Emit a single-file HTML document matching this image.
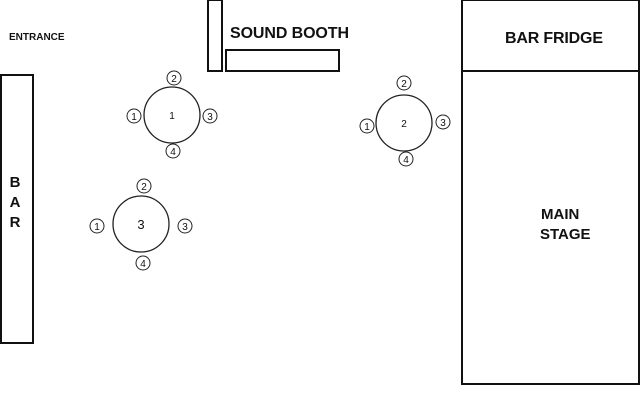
<!DOCTYPE html>
<html><head><style>html,body{margin:0;padding:0;background:#fff}svg{display:block}</style></head>
<body>
<svg width="640" height="400" viewBox="0 0 640 400" xmlns="http://www.w3.org/2000/svg" font-family="Liberation Sans, Arial, sans-serif">
<g fill="none" stroke="#111" stroke-width="2">
<rect x="1" y="75" width="32" height="268"/>
<rect x="208" y="0" width="14" height="71"/>
<rect x="226" y="50" width="113" height="21"/>
<rect x="462" y="0" width="177" height="71"/>
<rect x="462" y="71" width="177" height="313"/>
</g>
<g fill="none" stroke="#222" stroke-width="1.3">
<circle cx="172" cy="115" r="28"/>
<circle cx="404" cy="123" r="28"/>
<circle cx="141" cy="224" r="28"/>
</g>
<g fill="#fff" stroke="#222" stroke-width="1">
<circle cx="174" cy="78" r="7"/><circle cx="134" cy="116" r="7"/><circle cx="210" cy="116" r="7"/><circle cx="173" cy="151" r="7"/>
<circle cx="404" cy="83" r="7"/><circle cx="367" cy="126" r="7"/><circle cx="443" cy="122" r="7"/><circle cx="406" cy="159" r="7"/>
<circle cx="144" cy="186" r="7"/><circle cx="97" cy="226" r="7"/><circle cx="185" cy="226" r="7"/><circle cx="143" cy="263" r="7"/>
</g>
<g font-size="10" text-anchor="middle" fill="#111">
<text x="174" y="82">2</text><text x="134" y="120">1</text><text x="210" y="120">3</text><text x="173" y="155">4</text>
<text x="404" y="87">2</text><text x="367" y="130">1</text><text x="443" y="126">3</text><text x="406" y="163">4</text>
<text x="144" y="190">2</text><text x="97" y="230">1</text><text x="185" y="230">3</text><text x="143" y="267">4</text>
<text x="172" y="119">1</text><text x="404" y="127">2</text>
<text x="141" y="229" font-size="13">3</text>
</g>
<g font-weight="bold" fill="#111">
<text x="9" y="40" font-size="10">ENTRANCE</text>
<text x="230" y="38" font-size="16" textLength="119">SOUND BOOTH</text>
<text x="505" y="43" font-size="16" textLength="98">BAR FRIDGE</text>
<text x="541" y="219" font-size="15">MAIN</text>
<text x="540" y="239" font-size="15">STAGE</text>
<text x="15" y="187" font-size="15" text-anchor="middle">B</text>
<text x="15" y="207" font-size="15" text-anchor="middle">A</text>
<text x="15" y="227" font-size="15" text-anchor="middle">R</text>
</g>
</svg>
</body></html>
